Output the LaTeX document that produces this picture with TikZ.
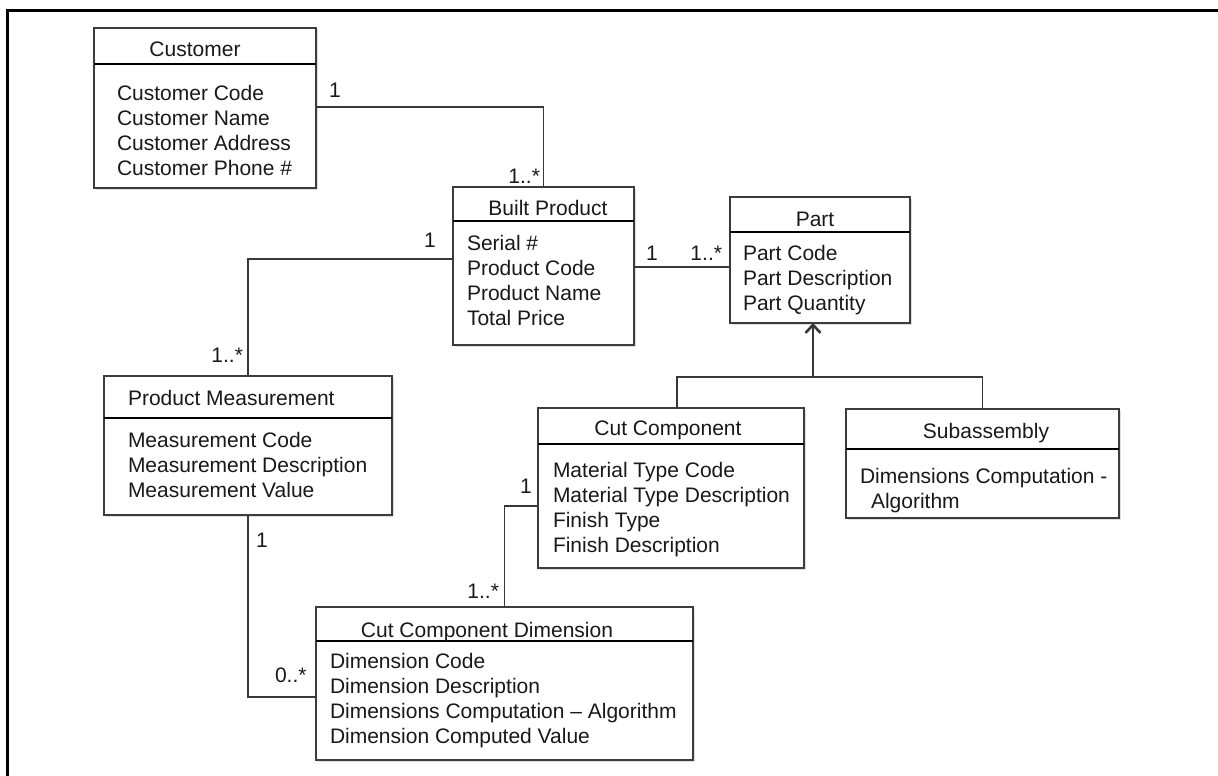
\documentclass[tikz,border=0pt]{standalone}
\usepackage{fontspec}
\setmainfont{Liberation Sans}
\usetikzlibrary{arrows.meta,shadows}
\definecolor{boxc}{HTML}{3C3C3C}
\definecolor{connc}{HTML}{383838}
\begin{document}
\begin{tikzpicture}[x=1pt,y=-1pt,
  umlbox/.style={draw=boxc, line width=1.6pt, fill=white, anchor=north west,
    inner sep=0pt, outer sep=0pt,
    drop shadow={shadow xshift=1.5pt, shadow yshift=-1.5pt, opacity=0.25}},
  sepline/.style={draw=black, line width=2.6pt},
  conn/.style={draw=connc, line width=1.6pt},
  txt/.style={inner sep=0pt, outer sep=0pt, font=\fontsize{21}{25}\selectfont, text=black!90},
  frameline/.style={draw=black, line width=3pt}
]
\useasboundingbox (0,0) rectangle (1218,776);
\draw[frameline] (7,790) -- (7,11) -- (1230,11);

% ---- Customer
\node[umlbox, minimum width=222pt, minimum height=160pt] (cust) at (94,28) {};
\draw[sepline] (cust.west |- 0,64) -- (cust.east |- 0,64);
\node[txt, anchor=base] (custT) at (195,57) {Customer};
\foreach \t [count=\i from 0] in {Customer Code,Customer Name,Customer Address,Customer Phone \#}
  \node[txt, anchor=base west] (custA\i) at (117,{100+25.3*\i}) {\t};

% ---- Built Product
\node[umlbox, minimum width=181pt, minimum height=158pt] (built) at (453,187) {};
\draw[sepline] (built.west |- 0,221) -- (built.east |- 0,221);
\node[txt, anchor=base] (builtT) at (548,215) {Built Product};
\foreach \t [count=\i from 0] in {Serial \#,Product Code,Product Name,Total Price}
  \node[txt, anchor=base west] (builtA\i) at (467,{250+25.3*\i}) {\t};

% ---- Part
\node[umlbox, minimum width=180pt, minimum height=126pt] (part) at (730,197) {};
\draw[sepline] (part.west |- 0,232) -- (part.east |- 0,232);
\node[txt, anchor=base] (partT) at (815,226) {Part};
\foreach \t [count=\i from 0] in {Part Code,Part Description,Part Quantity}
  \node[txt, anchor=base west] (partA\i) at (743,{260+25.3*\i}) {\t};

% ---- Product Measurement
\node[umlbox, minimum width=288pt, minimum height=139pt] (pm) at (104,376) {};
\draw[sepline] (pm.west |- 0,418) -- (pm.east |- 0,418);
\node[txt, anchor=base west] (pmT) at (128,405) {Product Measurement};
\foreach \t [count=\i from 0] in {Measurement Code,Measurement Description,Measurement Value}
  \node[txt, anchor=base west] (pmA\i) at (128,{447+25.3*\i}) {\t};

% ---- Cut Component
\node[umlbox, minimum width=266pt, minimum height=160pt] (cc) at (538,408) {};
\draw[sepline] (cc.west |- 0,444) -- (cc.east |- 0,444);
\node[txt, anchor=base] (ccT) at (668,435) {Cut Component};
\foreach \t [count=\i from 0] in {Material Type Code,Material Type Description,Finish Type,Finish Description}
  \node[txt, anchor=base west] (ccA\i) at (553,{477+25.3*\i}) {\t};

% ---- Subassembly
\node[umlbox, minimum width=273pt, minimum height=109pt] (sub) at (846,409) {};
\draw[sepline] (sub.west |- 0,449) -- (sub.east |- 0,449);
\node[txt, anchor=base] (subT) at (986,438) {Subassembly};
\node[txt, anchor=base west] (subA0) at (860,483) {Dimensions Computation -};
\node[txt, anchor=base west] (subA1) at (871,508) {Algorithm};

% ---- Cut Component Dimension
\node[umlbox, minimum width=377pt, minimum height=153pt] (ccd) at (316,607) {};
\draw[sepline] (ccd.west |- 0,641) -- (ccd.east |- 0,641);
\node[txt, anchor=base] (ccdT) at (487,637) {Cut Component Dimension};
\foreach \t [count=\i from 0] in {Dimension Code,Dimension Description,Dimensions Computation – Algorithm,Dimension Computed Value}
  \node[txt, anchor=base west] (ccdA\i) at (330,{668+25.3*\i}) {\t};

% ---- connectors
\draw[conn] (cust.east |- 0,107) -| (built.north);
\draw[conn] (built.west |- 0,259) -| (pm.north);
\draw[conn] (built.east |- 0,267) -- (part.west |- 0,267);
\draw[conn] (pm.south) |- (ccd.west |- 0,697);
\draw[conn] (cc.west |- 0,506) -| (ccd.north);

\coordinate (gj) at (813,377);
\draw[conn] (cc.north -| 677,0) |- (gj) -| (sub.north);
\draw[conn, -{Straight Barb[length=8pt, width=15pt, line width=2.6pt]}] (gj) -- (part.south -| gj);

% ---- multiplicities
\node[txt, anchor=base] (m1) at (335,97) {1};
\node[txt, anchor=base east] (m2) at (540,183) {1..*};
\node[txt, anchor=base] (m3) at (430,247) {1};
\node[txt, anchor=base east] (m4) at (243,362) {1..*};
\node[txt, anchor=base] (m5) at (652,260) {1};
\node[txt, anchor=base east] (m6) at (722,260) {1..*};
\node[txt, anchor=base] (m7) at (262,547) {1};
\node[txt, anchor=base west] (m8) at (275,682) {0..*};
\node[txt, anchor=base east] (m9) at (499,598) {1..*};
\node[txt, anchor=base] (m10) at (526,493) {1};
\end{tikzpicture}
\end{document}
